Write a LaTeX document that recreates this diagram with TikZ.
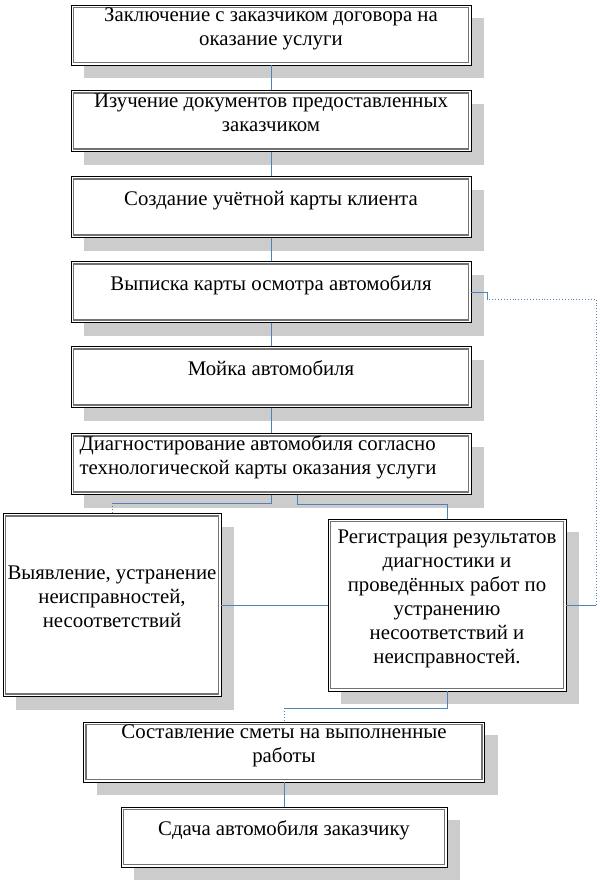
\documentclass[tikz,border=0pt]{standalone}
\usepackage{fontspec}
\setmainfont{Liberation Serif}
\usepackage{tikz}
\usetikzlibrary{calc, positioning}
\definecolor{linkblue}{RGB}{79,129,189}
\newcommand{\boxtext}[2][@{}c@{}]{\raisebox{0.8pt}[0pt][0pt]{\begin{tabular}{#1}#2\end{tabular}}}

\begin{document}
\begin{tikzpicture}[>=stealth, x=1pt, y=1pt,
  stepbox/.style={draw=black, line width=.7pt, fill=white, inner sep=0pt,
    font=\fontsize{20.8}{24}\selectfont,
    preaction={fill=black!20, draw=none, transform canvas={shift={(13pt,-13pt)}}},
    path picture={\draw[black!55, line width=1.4pt]
      ([shift={(2.6pt,2.6pt)}]path picture bounding box.south west) rectangle
      ([shift={(-2.6pt,-2.6pt)}]path picture bounding box.north east);}},
  link/.style={draw=linkblue, line width=.9pt},
  dotlink/.style={link, dotted}]
\useasboundingbox (0,0) rectangle (600,-884);

\node (b1) at (271,-35)[stepbox, minimum width=400, minimum height=60]{\boxtext{Заключение с заказчиком договора на\\оказание услуги}};
\node (b2) at (271,-121)[stepbox, minimum width=400, minimum height=61]{\boxtext{Изучение документов предоставленных\\заказчиком}};
\node (b3) at (271,-207)[stepbox, minimum width=400, minimum height=61]{\boxtext{Создание учётной карты клиента}};
\node (b4) at (271,-292)[stepbox, minimum width=400, minimum height=61]{\boxtext{Выписка карты осмотра автомобиля}};
\node (b5) at (271,-377)[stepbox, minimum width=400, minimum height=61]{\boxtext{Мойка автомобиля}};
\node (b6) at (271,-464)[stepbox, minimum width=400, minimum height=61]{\boxtext[@{}l@{\hspace{26pt}}]{Диагностирование автомобиля согласно\\технологической карты оказания услуги}};

\node (b7) at (112,-605)[stepbox, minimum width=218, minimum height=183]{\boxtext{Выявление, устранение\\неисправностей,\\несоответствий}};
\node (b8) at (447,-605)[stepbox, minimum width=238, minimum height=172]{\boxtext{Регистрация результатов\\диагностики и\\проведённых работ по\\устранению\\несоответствий и\\неисправностей.}};

\node (b9) at (284,-752)[stepbox, minimum width=401, minimum height=60]{\boxtext{Составление сметы на выполненные\\работы}};
\node (b10) at (284,-837)[stepbox, minimum width=326, minimum height=60]{\boxtext{Сдача автомобиля заказчику}};

% main chain
\draw[link] (b1) -- (b2);
\draw[link] (b2) -- (b3);
\draw[link] (b3) -- (b4);
\draw[link] (b4) -- (b5);
\draw[link] (b5) -- (b6);

% branches
\coordinate (k7) at (112,-503);
\coordinate (k8) at (447,-504);
\draw[link] (b6.south) |- (k7);
\draw[dotlink] (k7) -- (b7.north);
\draw[link] ([xshift=26pt]b6.south) |- (k8) -- (b8.north);
\draw[link] (b7.east) -- (b8.west);

% back to the inspection card
\coordinate (r1) at (596,-605);
\coordinate (r2) at (487,-299);
\draw[link] (b8.east) -- (r1);
\draw[dotlink] (r1) |- (r2);
\draw[link] (r2) |- (b4.east);

\coordinate (k9) at (284,-708);
\draw[link] (b8.south) |- (k9);
\draw[dotlink] (k9) -- (b9.north);
\draw[link] (b9) -- (b10);

\end{tikzpicture}
\end{document}
